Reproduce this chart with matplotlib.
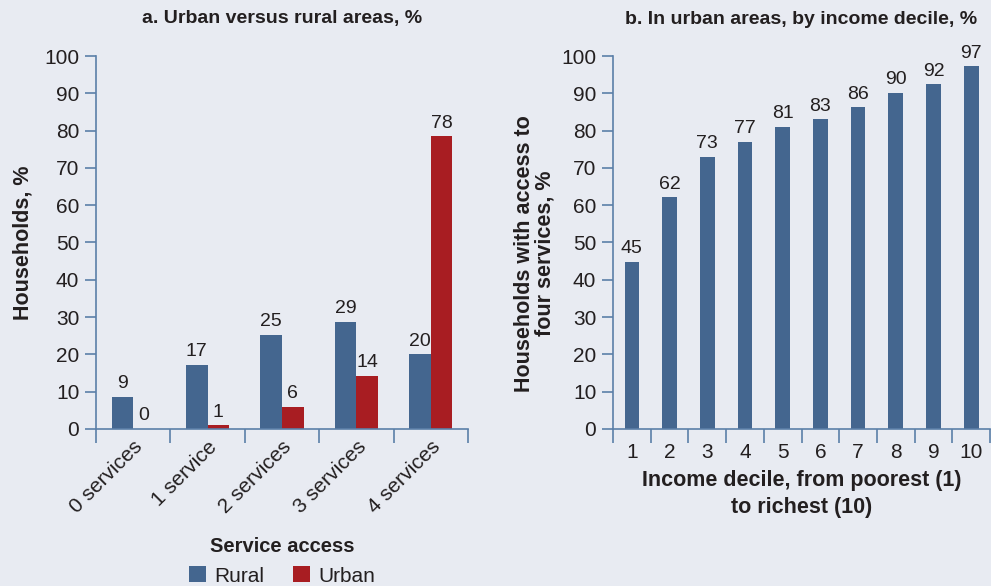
import numpy as np
import matplotlib.pyplot as plt
import matplotlib as mpl

mpl.rc('font', family=['Liberation Sans', 'DejaVu Sans'])

# panel a data
services = ["0 services", "1 service", "2 services", "3 services", "4 services"]
rural = [8.6, 17.2, 25.2, 28.7, 20.1]
urban = [0.1, 1.0, 5.9, 14.3, 78.5]
rural_labels = ["9", "17", "25", "29", "20"]
urban_labels = ["0", "1", "6", "14", "78"]

# panel b data
deciles = ["1", "2", "3", "4", "5", "6", "7", "8", "9", "10"]
four_services = [44.8, 62.1, 73.0, 77.0, 81.0, 83.0, 86.3, 90.2, 92.5, 97.2]
four_labels = ["45", "62", "73", "77", "81", "83", "86", "90", "92", "97"]

bg = '#e8ebf2'
blue = '#44668f'
red = '#a81d22'
axis_col = '#5b7fa8'
text_col = '#231f20'

fig = plt.figure(figsize=(9.91, 5.86), dpi=100, facecolor=bg)
ax1 = fig.add_axes([0.0969, 0.268, 0.3753, 0.6364])
ax2 = fig.add_axes([0.6186, 0.268, 0.3804, 0.6364])


def style_axis(ax, n):
    ax.set_facecolor(bg)
    for s in ['top', 'right']:
        ax.spines[s].set_visible(False)
    for s in ['left', 'bottom']:
        ax.spines[s].set_color(axis_col)
        ax.spines[s].set_linewidth(1.2)
    ax.set_ylim(0, 100)
    ax.set_xlim(-0.5, n - 0.5)
    ax.set_yticks(range(0, 101, 10))
    ax.tick_params(axis='y', colors=axis_col, labelcolor=text_col, labelsize=15,
                   length=8, width=1.2, pad=4)
    # tick marks at category edges, labels at centers
    ax.set_xticks(np.arange(n + 1) - 0.5, minor=True)
    ax.tick_params(axis='x', which='minor', colors=axis_col, length=10, width=1.2)
    ax.tick_params(axis='x', which='major', length=0, labelcolor=text_col, labelsize=15)


# panel a
x = np.arange(len(services))
w = 0.29
style_axis(ax1, len(services))
ax1.bar(x - w / 2, rural, w, color=blue, label='Rural')
ax1.bar(x + w / 2, urban, w, color=red, label='Urban')
for i in range(len(services)):
    ax1.text(x[i] - w / 2, rural[i] + 1.2, rural_labels[i], ha='center', va='bottom',
             fontsize=14, color=text_col)
    ax1.text(x[i] + w / 2, urban[i] + 1.2, urban_labels[i], ha='center', va='bottom',
             fontsize=14, color=text_col)
ax1.set_xticks(x)
ax1.set_xticklabels(services, rotation=45, ha='right', rotation_mode='anchor')
ax1.tick_params(axis='x', which='major', pad=6)
fig.text(282 / 991, 1 - 19 / 586, 'a. Urban versus rural areas, %', fontsize=14,
         fontweight='bold', color=text_col, ha='center', va='center')
ax1.set_ylabel('Households, %', fontsize=15.5, fontweight='bold', color=text_col, labelpad=8)
ax1.set_xlabel('Service access', fontsize=14.5, fontweight='bold', color=text_col, labelpad=14)
ax1.legend(loc='center', bbox_to_anchor=(282 / 991, 1 - 576 / 586),
           bbox_transform=fig.transFigure, ncol=2, frameon=False,
           fontsize=15, handlelength=0.8, handleheight=0.8, columnspacing=1.4,
           handletextpad=0.4, labelcolor=text_col, borderpad=0.1)

# panel b
xd = np.arange(len(deciles))
style_axis(ax2, len(deciles))
ax2.bar(xd, four_services, 0.39, color=blue)
for i in range(len(deciles)):
    ax2.text(xd[i], four_services[i] + 1.2, four_labels[i], ha='center', va='bottom',
             fontsize=14, color=text_col)
ax2.set_xticks(xd)
ax2.set_xticklabels(deciles)
ax2.tick_params(axis='x', which='major', pad=10)
fig.text(801 / 991, 1 - 19 / 586, 'b. In urban areas, by income decile, %', fontsize=14,
         fontweight='bold', color=text_col, ha='center', va='center')
ax2.set_ylabel('Households with access to\nfour services, %', fontsize=15.5,
               fontweight='bold', color=text_col, labelpad=4, linespacing=1.0)
ax2.yaxis.label.set_y(0.47)
ax2.set_xlabel('Income decile, from poorest (1)\nto richest (10)', fontsize=15.5,
               fontweight='bold', color=text_col, labelpad=6, linespacing=1.35)

fig.savefig('out.png', dpi=100, facecolor=bg)
